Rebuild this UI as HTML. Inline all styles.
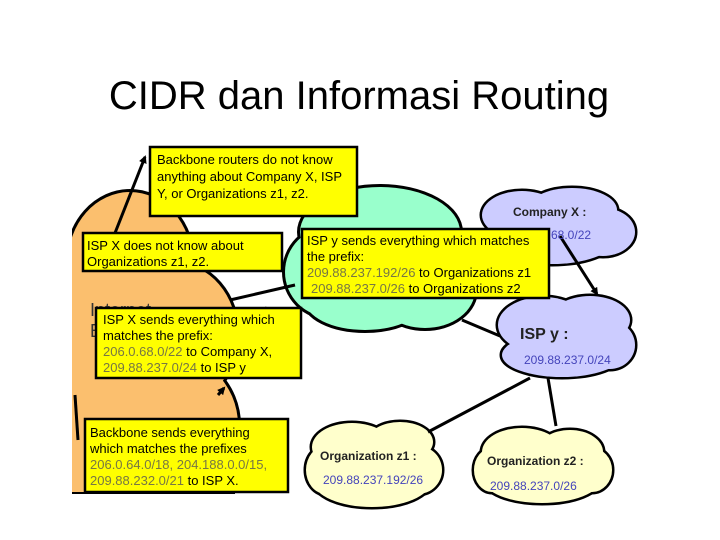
<!DOCTYPE html>
<html><head><meta charset="utf-8"><style>
body{margin:0;background:#fff}
svg{display:block}
text{font-family:"Liberation Sans",Arial,sans-serif}
.b{fill:#ffff00;stroke:#000;stroke-width:2.5}
.t{font-size:13px;fill:#000}
.g{fill:#777744}
</style></head><body>
<svg width="720" height="540" viewBox="0 0 720 540">
<defs>
<marker id="a" markerWidth="8" markerHeight="8" refX="6" refY="4" orient="auto" markerUnits="userSpaceOnUse"><path d="M0,0 L8,4 L0,8z" fill="#000"/></marker>
<clipPath id="cl"><rect x="72" y="0" width="700" height="493"/></clipPath>
</defs>
<text x="359" y="109" font-size="40" text-anchor="middle" fill="#000">CIDR dan Informasi Routing</text>

<g clip-path="url(#cl)">
<g stroke="#000" stroke-width="6" fill="#000">
<ellipse cx="130" cy="262" rx="62" ry="70"/><ellipse cx="175" cy="335" rx="62" ry="72"/><ellipse cx="160" cy="425" rx="78" ry="75"/><rect x="60" y="280" width="100" height="213"/>
</g>
<g fill="#fbbf6e">
<ellipse cx="130" cy="262" rx="62" ry="70"/><ellipse cx="175" cy="335" rx="62" ry="72"/><ellipse cx="160" cy="425" rx="78" ry="75"/><rect x="60" y="280" width="100" height="213"/>
</g>
</g>
<text x="90" y="316" font-size="18" fill="#333">Internet</text>
<text x="90" y="337" font-size="18" fill="#333">B</text>

<g stroke="#000" stroke-width="6" fill="#000">
<ellipse cx="380" cy="232" rx="80" ry="45"/><ellipse cx="330" cy="272" rx="45" ry="45"/><ellipse cx="425" cy="290" rx="50" ry="38"/><ellipse cx="365" cy="300" rx="60" ry="30"/>
</g>
<g fill="#99ffcc">
<ellipse cx="380" cy="232" rx="80" ry="45"/><ellipse cx="330" cy="272" rx="45" ry="45"/><ellipse cx="425" cy="290" rx="50" ry="38"/><ellipse cx="365" cy="300" rx="60" ry="30"/>
</g>

<g stroke="#000" stroke-width="5" fill="#000">
<ellipse cx="522" cy="215" rx="40" ry="24"/><ellipse cx="572" cy="210" rx="45" ry="22"/><ellipse cx="603" cy="232" rx="32" ry="24"/><ellipse cx="552" cy="242" rx="60" ry="22"/>
<ellipse cx="543" cy="325" rx="45" ry="28"/><ellipse cx="590" cy="320" rx="40" ry="24"/><ellipse cx="610" cy="345" rx="25" ry="24"/><ellipse cx="562" cy="355" rx="60" ry="22"/>
</g>
<g fill="#ccccff">
<ellipse cx="522" cy="215" rx="40" ry="24"/><ellipse cx="572" cy="210" rx="45" ry="22"/><ellipse cx="603" cy="232" rx="32" ry="24"/><ellipse cx="552" cy="242" rx="60" ry="22"/>
<ellipse cx="543" cy="325" rx="45" ry="28"/><ellipse cx="590" cy="320" rx="40" ry="24"/><ellipse cx="610" cy="345" rx="25" ry="24"/><ellipse cx="562" cy="355" rx="60" ry="22"/>
</g>

<g stroke="#000" stroke-width="5" fill="#000">
<ellipse cx="352" cy="447" rx="40" ry="24"/><ellipse cx="400" cy="442" rx="33" ry="20"/><ellipse cx="418" cy="470" rx="24" ry="24"/><ellipse cx="372" cy="482" rx="58" ry="25"/><ellipse cx="326" cy="470" rx="20" ry="24"/>
<ellipse cx="522" cy="452" rx="40" ry="24"/><ellipse cx="570" cy="452" rx="33" ry="22"/><ellipse cx="592" cy="470" rx="20" ry="22"/><ellipse cx="542" cy="480" rx="58" ry="23"/><ellipse cx="492" cy="470" rx="18" ry="22"/>
</g>
<g fill="#ffffcc">
<ellipse cx="352" cy="447" rx="40" ry="24"/><ellipse cx="400" cy="442" rx="33" ry="20"/><ellipse cx="418" cy="470" rx="24" ry="24"/><ellipse cx="372" cy="482" rx="58" ry="25"/><ellipse cx="326" cy="470" rx="20" ry="24"/>
<ellipse cx="522" cy="452" rx="40" ry="24"/><ellipse cx="570" cy="452" rx="33" ry="22"/><ellipse cx="592" cy="470" rx="20" ry="22"/><ellipse cx="542" cy="480" rx="58" ry="23"/><ellipse cx="492" cy="470" rx="18" ry="22"/>
</g>

<g stroke="#000" stroke-width="3">
<line x1="230" y1="300" x2="295" y2="285"/>
<line x1="248" y1="315" x2="272" y2="309" marker-end="url(#a)"/>
<line x1="115" y1="233" x2="145" y2="157" marker-end="url(#a)"/>
<line x1="560" y1="236" x2="597" y2="294" marker-end="url(#a)"/>
<line x1="462" y1="320" x2="500" y2="336"/>
<line x1="530" y1="378" x2="428" y2="432"/>
<line x1="548" y1="378" x2="556" y2="426"/>
<line x1="218" y1="395" x2="224" y2="388" marker-end="url(#a)"/>
<line x1="75" y1="395" x2="78" y2="440"/>
<line x1="72" y1="493" x2="235" y2="493" stroke-width="2"/>
</g>

<text x="513" y="216" font-size="12" font-weight="bold" fill="#222">Company X :</text>
<text x="551" y="239" font-size="12" fill="#4444bb">68.0/22</text>
<text x="520" y="339" font-size="16" font-weight="bold" fill="#222">ISP y :</text>
<text x="524" y="364" font-size="12" fill="#4444bb">209.88.237.0/24</text>
<text x="320" y="460" font-size="12" font-weight="bold" fill="#222">Organization z1 :</text>
<text x="323" y="484" font-size="12" fill="#4444bb">209.88.237.192/26</text>
<text x="487" y="465" font-size="12" font-weight="bold" fill="#222">Organization z2 :</text>
<text x="490" y="490" font-size="12" fill="#4444bb">209.88.237.0/26</text>

<rect class="b" x="150" y="147" width="207" height="69"/>
<text class="t"><tspan x="157" y="164">Backbone routers do not know</tspan><tspan x="157" y="181">anything about Company X, ISP</tspan><tspan x="157" y="198">Y, or Organizations z1, z2.</tspan></text>

<rect class="b" x="83" y="233" width="199" height="38"/>
<text class="t"><tspan x="87" y="250">ISP X does not know about</tspan><tspan x="87" y="266">Organizations z1, z2.</tspan></text>

<rect class="b" x="302" y="229" width="247" height="69"/>
<text class="t"><tspan x="307" y="245">ISP y sends everything which matches</tspan><tspan x="307" y="261">the prefix:</tspan><tspan x="307" y="277"><tspan class="g">209.88.237.192/26</tspan> to Organizations z1</tspan><tspan x="311" y="293"><tspan class="g">209.88.237.0/26</tspan> to Organizations z2</tspan></text>

<rect class="b" x="96" y="308" width="205" height="70"/>
<text class="t"><tspan x="103" y="324">ISP X sends everything which</tspan><tspan x="103" y="340">matches the prefix:</tspan><tspan x="103" y="356"><tspan class="g">206.0.68.0/22</tspan>  to Company X,</tspan><tspan x="103" y="372"><tspan class="g">209.88.237.0/24</tspan> to ISP y</tspan></text>

<rect class="b" x="85" y="419" width="203" height="73"/>
<text class="t"><tspan x="90" y="437">Backbone sends everything</tspan><tspan x="90" y="453">which matches the prefixes</tspan><tspan x="90" y="469" class="g">206.0.64.0/18, 204.188.0.0/15,</tspan><tspan x="90" y="485"><tspan class="g">209.88.232.0/21</tspan> to ISP X.</tspan></text>
</svg>
</body></html>
